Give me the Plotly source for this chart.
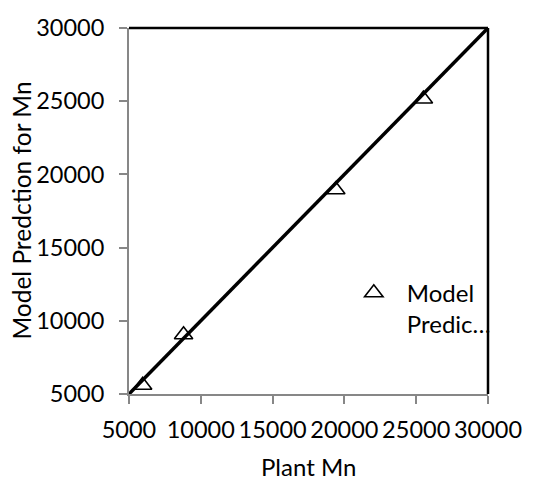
import plotly.graph_objects as go

# Data
plant_mn = [5950, 8800, 19400, 25500]
model_pred = [5600, 9050, 18950, 25150]
line_x = [5000, 30000]
line_y = [5000, 30000]
tick_vals = [5000, 10000, 15000, 20000, 25000, 30000]
tick_text = ["5000", "10000", "15000", "20000", "25000", "30000"]
series_name = "Model<br>Predic…"
x_title = "Plant Mn"
y_title = "Model Predction for Mn"

FONT = "Lato"
GRAY = "#878787"

fig = go.Figure()
fig.add_trace(go.Scatter(
    x=plant_mn, y=model_pred, mode="markers", name=series_name,
    marker=dict(symbol="triangle-up-open", size=16, color="black",
                line=dict(width=1.6, color="black")),
    cliponaxis=False,
))
fig.add_trace(go.Scatter(
    x=line_x, y=line_y, mode="lines", showlegend=False,
    line=dict(color="black", width=3.5), cliponaxis=False,
))

axis_common = dict(
    range=[5000, 30000], tickvals=tick_vals, ticktext=tick_text,
    showgrid=False, zeroline=False, showline=True, linecolor=GRAY, linewidth=2,
    ticks="outside", ticklen=8, tickwidth=2, tickcolor=GRAY, automargin=False,
    tickfont=dict(family=FONT, size=23.5, color="black"),
)

fig.update_layout(
    width=537, height=477,
    margin=dict(l=129, r=49, t=28, b=83),
    paper_bgcolor="white", plot_bgcolor="white",
    font=dict(family=FONT, color="black"),
    xaxis=dict(**axis_common, ticklabelstandoff=6),
    yaxis=dict(**axis_common, ticklabelstandoff=10),
    showlegend=True,
    legend=dict(x=0.59, y=0.337, xanchor="left", yanchor="top", bgcolor="rgba(0,0,0,0)",
                font=dict(family=FONT, size=24, color="black"), itemwidth=56, valign="top"),
    annotations=[
        dict(text=x_title, xref="paper", yref="paper", x=0.5, y=-0.152,
             xanchor="center", yanchor="top", showarrow=False,
             font=dict(family=FONT, size=24, color="black")),
        dict(text=y_title, xref="paper", yref="paper", x=-0.302, y=0.5,
             xanchor="center", yanchor="middle", showarrow=False, textangle=-90,
             font=dict(family=FONT, size=24.5, color="black")),
    ],
    shapes=[
        dict(type="line", xref="paper", yref="paper", x0=0, x1=1, y0=1, y1=1,
             line=dict(color="black", width=2.5)),
        dict(type="line", xref="paper", yref="paper", x0=1, x1=1, y0=0, y1=1,
             line=dict(color="black", width=2.5)),
    ],
)

fig.write_html("out.html")
